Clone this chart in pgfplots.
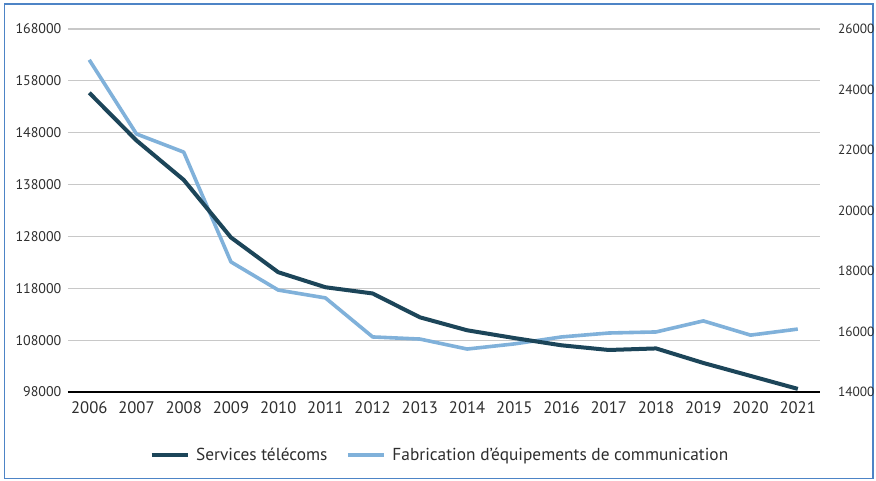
\documentclass[border=0pt]{standalone}
\usepackage{pgfplots}
\pgfplotsset{compat=1.18}
\usepackage{fontspec}
\setmainfont{PT Sans}
\definecolor{darkline}{HTML}{1C4559}
\definecolor{lightline}{HTML}{80B1DA}
\definecolor{frameblue}{HTML}{4D84C6}
\definecolor{gridgray}{HTML}{C8C8C8}
\definecolor{txt}{HTML}{2E2E2E}
\pgfplotsset{
  common/.style={
    at={(51pt,66.75pt)}, anchor=south west, scale only axis,
    width=564pt, height=272.25pt,
    xmin=2005.55, xmax=2021.47,
    xtick={2006,2007,...,2021},
    major tick length=0pt,
    scaled ticks=false,
    /pgf/number format/fixed,
    /pgf/number format/1000 sep={},
    /pgf/number format/assume math mode=true,
    xticklabel style={font=\fontsize{12.5}{14}\selectfont, text=txt},
  }
}
\begin{document}
\begin{tikzpicture}[x=0.75pt,y=0.75pt]
\path[use as bounding box] (0,0) rectangle (876,481);
\fill[white] (0,0) rectangle (876,481);
\draw[frameblue, line width=1.2pt] (4.5,2.5) rectangle (873,477);
% left axis with grid
\begin{axis}[common,
  ymin=98000, ymax=168000,
  ytick={98000,108000,...,168000},
  axis line style={draw=none},
  ymajorgrids, grid style={gridgray, line width=0.8pt},
  extra y ticks={98000}, extra y tick labels={},
  extra y tick style={grid style={black, line width=1.6pt}},
  xticklabel style={yshift=-4pt},
  yticklabel style={xshift=-1.5pt, font=\fontsize{10.5}{12}\selectfont, text=txt},
]
\end{axis}
% right axis, light series
\begin{axis}[common,
  ymin=14000, ymax=26000,
  ytick={14000,16000,...,26000},
  axis y line*=right, axis x line=none,
  axis line style={draw=none},
  yticklabel style={xshift=10pt, font=\fontsize{10}{12}\selectfont, text=txt},
]
\addplot[lightline, line width=2.7pt, line join=round] coordinates {
(2006,24980) (2007,22530) (2008,21930) (2009,18300) (2010,17370) (2011,17110)
(2012,15820) (2013,15750) (2014,15420) (2015,15590) (2016,15820) (2017,15950)
(2018,15985) (2019,16350) (2020,15880) (2021,16080)};
\end{axis}
% left scale, dark series and legend
\begin{axis}[common,
  ymin=98000, ymax=168000,
  hide axis,
  legend style={at={(0.495,-0.1736)}, anchor=center, draw=none, fill=none,
    legend columns=2, font=\fontsize{13}{15}\selectfont, text=txt,
    /tikz/every even column/.append style={column sep=12pt}},
  legend image code/.code={\draw[#1] (0pt,0pt) -- (27pt,0pt);},
]
\addplot[darkline, line width=3pt, line join=round] coordinates {
(2006,155700) (2007,146500) (2008,138900) (2009,127800) (2010,121100) (2011,118200)
(2012,117000) (2013,112400) (2014,109900) (2015,108400) (2016,107000) (2017,106100)
(2018,106400) (2019,103600) (2020,101100) (2021,98600)};
\addlegendentry{\hspace{3pt}Services télécoms}
\addlegendimage{lightline, line width=2.7pt}
\addlegendentry{\hspace{3pt}Fabrication d’équipements de communication}
\end{axis}
\end{tikzpicture}
\end{document}
